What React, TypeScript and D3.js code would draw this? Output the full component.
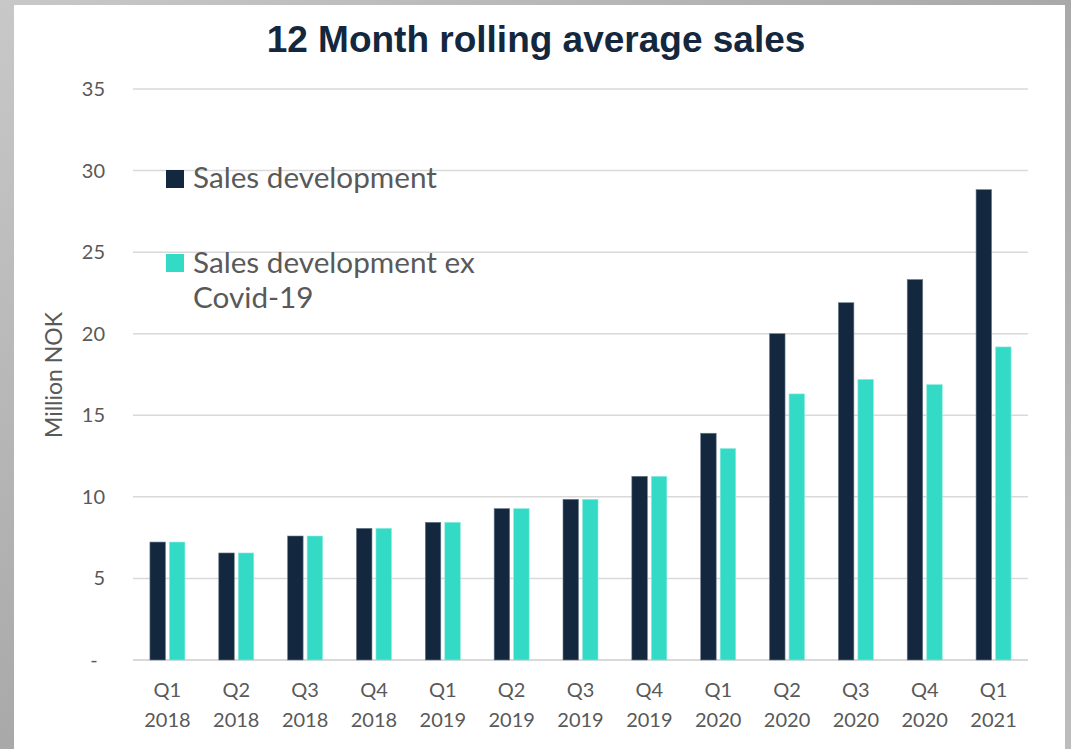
import React from "react";
import * as d3 from "d3";

const categories = ["Q1 2018", "Q2 2018", "Q3 2018", "Q4 2018", "Q1 2019", "Q2 2019", "Q3 2019", "Q4 2019", "Q1 2020", "Q2 2020", "Q3 2020", "Q4 2020", "Q1 2021"];
const salesDevelopment = [7.23, 6.56, 7.6, 8.07, 8.44, 9.28, 9.85, 11.26, 13.9, 20.0, 21.9, 23.32, 28.83];
const salesExCovid = [7.23, 6.56, 7.6, 8.07, 8.44, 9.28, 9.85, 11.26, 12.96, 16.31, 17.2, 16.88, 19.19];
const yTicks = [0, 5, 10, 15, 20, 25, 30, 35];
const seriesNames = ["Sales development", "Sales development ex Covid-19"];
const title = "12 Month rolling average sales";
const yAxisTitle = "Million NOK";

const W = 1071;
const H = 749;
const DARK = "#13283e";
const TEAL = "#33dbc7";
const GRID = "#d9d9d9";
const TEXT = "#595959";
const FONT = "Lato, 'Open Sans', sans-serif";

export default function App() {
  const margin = { left: 133, right: 1028, top: 89, bottom: 660 };
  const x = d3.scaleBand<string>().domain(categories).range([margin.left, margin.right]).paddingInner(0).paddingOuter(0);
  const y = d3.scaleLinear().domain([0, 35]).range([margin.bottom, margin.top]);
  const bw = x.bandwidth();
  const barW = 15.5;
  const gap = 4;

  return (
    <div style={{ position: "fixed", left: 0, top: 0, width: W, height: H }}>
      <svg width={W} height={H} viewBox={`0 0 ${W} ${H}`} style={{ display: "block" }}>
        <defs>
          <linearGradient id="bg" x1="0" y1="0" x2="1" y2="1">
            <stop offset="0" stopColor="#c8c8c8" />
            <stop offset="0.5" stopColor="#a9a9a9" />
            <stop offset="1" stopColor="#bdbdbd" />
          </linearGradient>
        </defs>
        <rect x={0} y={0} width={W} height={H} fill="url(#bg)" />
        <rect x={14} y={5} width={1051} height={H - 5} fill="#ffffff" />
        <text x={536} y={52} textAnchor="middle" fontFamily="'Liberation Sans', Arial, sans-serif" fontWeight="bold" fontSize={37} fill={DARK}>
          {title}
        </text>
        {yTicks.map((t) => (
          <g key={t}>
            <line x1={margin.left} x2={margin.right} y1={y(t)} y2={y(t)} stroke={GRID} strokeWidth={t === 0 ? 2 : 1.5} />
            <text x={t === 0 ? 94 : 105} y={y(t)} dy="0.35em" textAnchor={t === 0 ? "middle" : "end"} fontFamily={FONT} fontSize={20} fill={TEXT}>
              {t === 0 ? "-" : t}
            </text>
          </g>
        ))}
        {categories.map((c, i) => {
          const cx = (x(c) as number) + bw / 2;
          return (
            <g key={c}>
              <rect x={cx - gap / 2 - barW} y={y(salesDevelopment[i])} width={barW} height={y(0) - y(salesDevelopment[i])} fill={DARK} stroke="#6b7b8c" strokeWidth={0.6} />
              <rect x={cx + gap / 2} y={y(salesExCovid[i])} width={barW} height={y(0) - y(salesExCovid[i])} fill={TEAL} stroke="#8ee9de" strokeWidth={0.6} />
              <text x={cx} y={697} textAnchor="middle" fontFamily={FONT} fontSize={20} fill={TEXT}>
                {c.split(" ")[0]}
              </text>
              <text x={cx} y={727} textAnchor="middle" fontFamily={FONT} fontSize={20} fill={TEXT}>
                {c.split(" ")[1]}
              </text>
            </g>
          );
        })}
        <text transform={`translate(62,375) rotate(-90)`} textAnchor="middle" fontFamily={FONT} fontSize={23} fill={TEXT}>
          {yAxisTitle}
        </text>
        <rect x={166} y={170} width={18} height={18} fill={DARK} />
        <text x={193} y={188} fontFamily={FONT} fontSize={29.7} fill={TEXT}>
          {seriesNames[0]}
        </text>
        <rect x={166} y={254} width={18} height={18} fill={TEAL} />
        <text x={193} y={273} fontFamily={FONT} fontSize={29.7} fill={TEXT}>
          Sales development ex
        </text>
        <text x={193} y={308} fontFamily={FONT} fontSize={29.7} fill={TEXT}>
          Covid-19
        </text>
      </svg>
    </div>
  );
}
